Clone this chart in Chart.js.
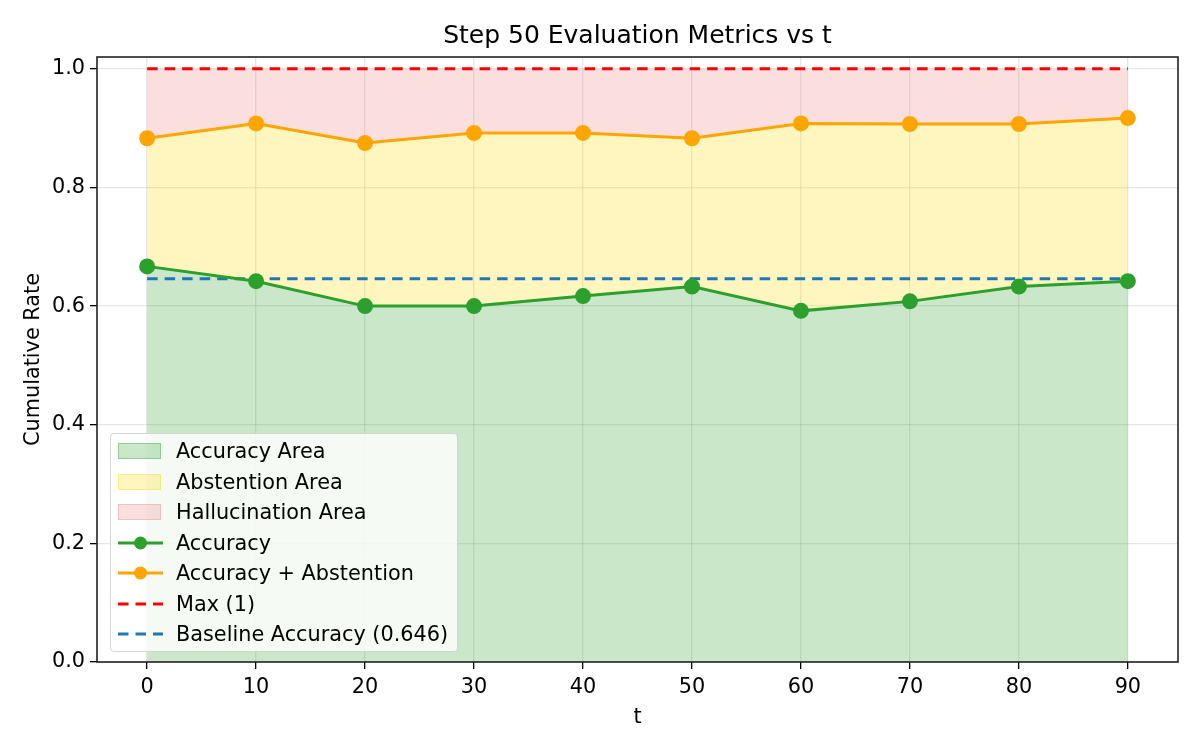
<!DOCTYPE html>
<html>
<head>
<meta charset="utf-8">
<script src="https://cdn.jsdelivr.net/npm/chart.js@4/dist/chart.umd.min.js"></script>
<style>
body{margin:0;background:#fff;font-family:"DejaVu Sans",sans-serif;}
#wrap{position:relative;width:1200px;height:750px;}
#legend{position:absolute;left:110px;top:433px;width:348px;height:219px;background:rgba(255,255,255,0.8);border:1px solid #d3d3d3;border-radius:4px;box-sizing:border-box;}
.row{position:absolute;left:0;height:30px;width:100%;}
.row span{position:absolute;left:65px;top:0;line-height:30px;font-size:20.8px;color:#000;white-space:nowrap;}
.patch{position:absolute;left:7px;top:7px;width:43px;height:16px;box-sizing:border-box;}
.row canvas{position:absolute;left:5px;top:0;}
</style>
</head>
<body>
<div id="wrap">
<canvas id="chart"></canvas>
<div id="legend"></div>
</div>
<script>
const tValues = [0,10,20,30,40,50,60,70,80,90];
const accuracy = [0.667,0.642,0.600,0.600,0.617,0.633,0.592,0.608,0.633,0.642];
const accPlusAbs = [0.883,0.908,0.875,0.892,0.892,0.883,0.908,0.907,0.907,0.917];
const maxValue = 1;
const baseline = 0.646;
const xTicks = [0,10,20,30,40,50,60,70,80,90];
const yTicks = [0,0.2,0.4,0.6,0.8,1.0];
const chartTitle = 'Step 50 Evaluation Metrics vs t';

const pts = arr => tValues.map((t,i)=>({x:t,y:arr[i]}));
const flat = v => tValues.map(t=>({x:t,y:v}));

const green = '#2ca02c', orange = '#ffa500';
const dash = [10.5,7];

// axes box + title centred over the plot area (matplotlib style)
const frame = {
id:'frame',
afterDraw(chart){
const a = chart.chartArea, c = chart.ctx;
c.save();
c.strokeStyle = '#222';
c.lineWidth = 1.6;
c.strokeRect(a.left, a.top, a.right-a.left, a.bottom-a.top);
c.fillStyle = '#000';
c.font = '25px "DejaVu Sans"';
c.textAlign = 'center';
c.textBaseline = 'middle';
c.fillText(chartTitle, (a.left+a.right)/2, 36);
c.restore();
}
};

new Chart(document.getElementById('chart'),{
type:'line',
data:{
datasets:[
{label:'Accuracy',data:pts(accuracy),borderColor:green,backgroundColor:green,borderWidth:3,pointRadius:6.5,pointHoverRadius:6.5,fill:false},
{label:'Accuracy + Abstention',data:pts(accPlusAbs),borderColor:orange,backgroundColor:orange,borderWidth:3,pointRadius:6.5,pointHoverRadius:6.5,fill:false},
{label:'Max (1)',data:flat(maxValue),borderColor:'#ff0000',borderWidth:3,borderDash:dash,pointRadius:0,fill:false},
{label:'Baseline Accuracy (0.646)',data:flat(baseline),borderColor:'#1f77b4',borderWidth:3,borderDash:dash,pointRadius:0,fill:false},
{label:'Accuracy Area',data:pts(accuracy),borderWidth:0,pointRadius:0,backgroundColor:'rgba(44,160,44,0.25)',fill:'origin'},
{label:'Abstention Area',data:pts(accPlusAbs),borderWidth:0,pointRadius:0,backgroundColor:'rgba(255,215,0,0.25)',fill:4},
{label:'Hallucination Area',data:flat(maxValue),borderWidth:0,pointRadius:0,backgroundColor:'rgba(240,128,128,0.25)',fill:5}
]
},
options:{
responsive:true,
maintainAspectRatio:false,
devicePixelRatio:1,
animation:false,
layout:{padding:{left:0,right:22,top:57,bottom:0}},
plugins:{
legend:{display:false},
tooltip:{enabled:false},
title:{display:false}
},
scales:{
x:{
type:'linear',min:-4.6,max:94.6,
afterBuildTicks(s){s.ticks = xTicks.map(v=>({value:v}));},
afterFit(s){s.height = 88;},
ticks:{color:'#000',font:{family:'DejaVu Sans',size:20.8},padding:6,maxRotation:0},
grid:{color:'rgba(176,176,176,0.3)',tickColor:'#000',tickLength:7,lineWidth:1.3},
border:{display:false},
title:{display:true,text:'t',color:'#000',font:{family:'DejaVu Sans',size:20.8},padding:{top:20,bottom:20}}
},
y:{
type:'linear',min:0,max:1.02,
afterBuildTicks(s){s.ticks = yTicks.map(v=>({value:v}));},
afterFit(s){s.width = 97;},
ticks:{color:'#000',font:{family:'DejaVu Sans',size:20.8},padding:5,callback:v=>v.toFixed(1)},
grid:{color:'rgba(176,176,176,0.3)',tickColor:'#000',tickLength:7,lineWidth:1.3},
border:{display:false},
title:{display:true,text:'Cumulative Rate',color:'#000',font:{family:'DejaVu Sans',size:20.8},padding:{top:21,bottom:0}}
}
}
},
plugins:[frame]
});

// legend, inside the axes at lower left
const legendItems = [
{label:'Accuracy Area',kind:'patch',fill:'rgba(44,160,44,0.25)',edge:'rgba(44,160,44,0.35)'},
{label:'Abstention Area',kind:'patch',fill:'rgba(255,215,0,0.25)',edge:'rgba(255,215,0,0.35)'},
{label:'Hallucination Area',kind:'patch',fill:'rgba(240,128,128,0.25)',edge:'rgba(240,128,128,0.35)'},
{label:'Accuracy',kind:'marker',color:green},
{label:'Accuracy + Abstention',kind:'marker',color:orange},
{label:'Max (1)',kind:'dash',color:'#ff0000'},
{label:'Baseline Accuracy (0.646)',kind:'dash',color:'#1f77b4'}
];
const leg = document.getElementById('legend');
legendItems.forEach((it,i)=>{
const row = document.createElement('div');
row.className = 'row';
row.style.top = (2 + i*30.5) + 'px';
if(it.kind==='patch'){
const p = document.createElement('div');
p.className = 'patch';
p.style.background = it.fill;
p.style.border = '1px solid ' + it.edge;
row.appendChild(p);
}else{
const cv = document.createElement('canvas');
cv.width = 50; cv.height = 30;
const c = cv.getContext('2d');
c.strokeStyle = it.color;
c.lineWidth = 3;
if(it.kind==='dash') c.setLineDash(dash);
c.beginPath(); c.moveTo(2,15); c.lineTo(47,15); c.stroke();
if(it.kind==='marker'){
c.fillStyle = it.color;
c.beginPath(); c.arc(24.5,15,6.5,0,Math.PI*2); c.fill();
}
row.appendChild(cv);
}
const s = document.createElement('span');
s.textContent = it.label;
row.appendChild(s);
leg.appendChild(row);
});
</script>
</body>
</html>
